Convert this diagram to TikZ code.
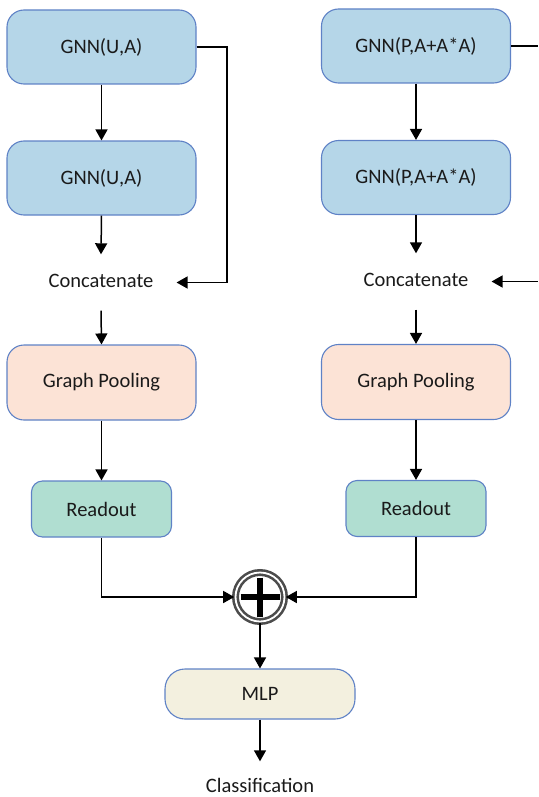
\documentclass[tikz,border=0pt]{standalone}
\usepackage{fontspec}
\setmainfont{Carlito}
\usetikzlibrary{arrows.meta,calc}
\definecolor{edgeblue}{HTML}{5F82C6}
\definecolor{gnnfill}{HTML}{B5D6E8}
\definecolor{poolfill}{HTML}{FCE3D6}
\definecolor{readfill}{HTML}{B0DED1}
\definecolor{mlpfill}{HTML}{F3F0DF}
\definecolor{ink}{HTML}{1A1A1A}
\tikzset{
  lbl/.style={font=\fontsize{20.5}{24}\selectfont, text=ink},
  blockbox/.style={lbl, draw=edgeblue, line width=1.1pt, rectangle, inner sep=0pt},
  gnnbox/.style={blockbox, fill=gnnfill, rounded corners=17pt, minimum width=189pt, minimum height=74pt},
  poolbox/.style={blockbox, fill=poolfill, rounded corners=17pt, minimum width=189pt, minimum height=75pt},
  readbox/.style={blockbox, fill=readfill, rounded corners=11pt, minimum width=140pt, minimum height=56pt},
  mlpbox/.style={blockbox, fill=mlpfill, rounded corners=20pt, minimum width=190pt, minimum height=50pt},
  plain/.style={lbl, inner xsep=23pt, inner ysep=19.5pt, text height=13pt, text depth=4pt, anchor=base},
  arr/.style={draw=black, line width=1.5pt, -{Triangle[width=12pt,length=11pt]}},
  wire/.style={draw=black, line width=1.5pt},
}
\begin{document}
\begin{tikzpicture}[x=1pt,y=-1pt]
\useasboundingbox (0,0) rectangle (538,797);

% left branch
\node[gnnbox] (gnnL1) at (101.5,47) {GNN(U,A)};
\node[gnnbox] (gnnL2) at (101.5,178) {GNN(U,A)};
\node[plain] (catL) at (101,287) {Concatenate};
\node[poolbox] (poolL) at (101.5,382.5) {Graph Pooling};
\node[readbox] (readL) at (101.5,509) {Readout};

% right branch
\node[gnnbox] (gnnR1) at (416,46) {GNN(P,A+A*A)};
\node[gnnbox] (gnnR2) at (416,177.5) {GNN(P,A+A*A)};
\node[plain] (catR) at (416,286) {Concatenate};
\node[poolbox] (poolR) at (416,382) {Graph Pooling};
\node[readbox] (readR) at (416,508.5) {Readout};

% fusion and head
\node[circle, minimum size=49pt, inner sep=0pt, draw=black!70, line width=2.6pt,
      double=white, double distance=1.8pt] (sum) at (260,597) {};
\node[mlpbox] (mlp) at (260,694) {MLP};
\node[plain, inner ysep=17.5pt] (cls) at (260,792) {Classification};

% plus sign inside the summation circle
\draw[line width=6.5pt, black] ($(sum.center)+(-19.5,0)$) -- ($(sum.center)+(19.5,0)$);
\draw[line width=6.5pt, black] ($(sum.center)+(0,-19.5)$) -- ($(sum.center)+(0,19.5)$);

% skip connections
\coordinate (fbL) at (227,47);
\coordinate (edgeR) at (538,0);
\draw[arr] (gnnL1.east) -- (fbL) |- (catL.east);
\draw[wire] (gnnR1.east) -- (gnnR1.east -| edgeR);
\draw[arr] (catR.east -| edgeR) -- (catR.east);

% main flow
\draw[arr] (gnnL1.south) -- (gnnL2.north);
\draw[arr] (gnnL2.south) -- (catL.north);
\draw[arr] (catL.south) -- (poolL.north);
\draw[arr] (poolL.south) -- (readL.north);
\draw[arr] (gnnR1.south) -- (gnnR2.north);
\draw[arr] (gnnR2.south) -- (catR.north);
\draw[arr] (catR.south) -- (poolR.north);
\draw[arr] (poolR.south) -- (readR.north);
\draw[arr] (readL.south) |- (sum.west);
\draw[arr] (readR.south) |- (sum.east);
\draw[arr] (sum.south) -- (mlp.north);
\draw[arr] (mlp.south) -- (cls.north);
\end{tikzpicture}
\end{document}
